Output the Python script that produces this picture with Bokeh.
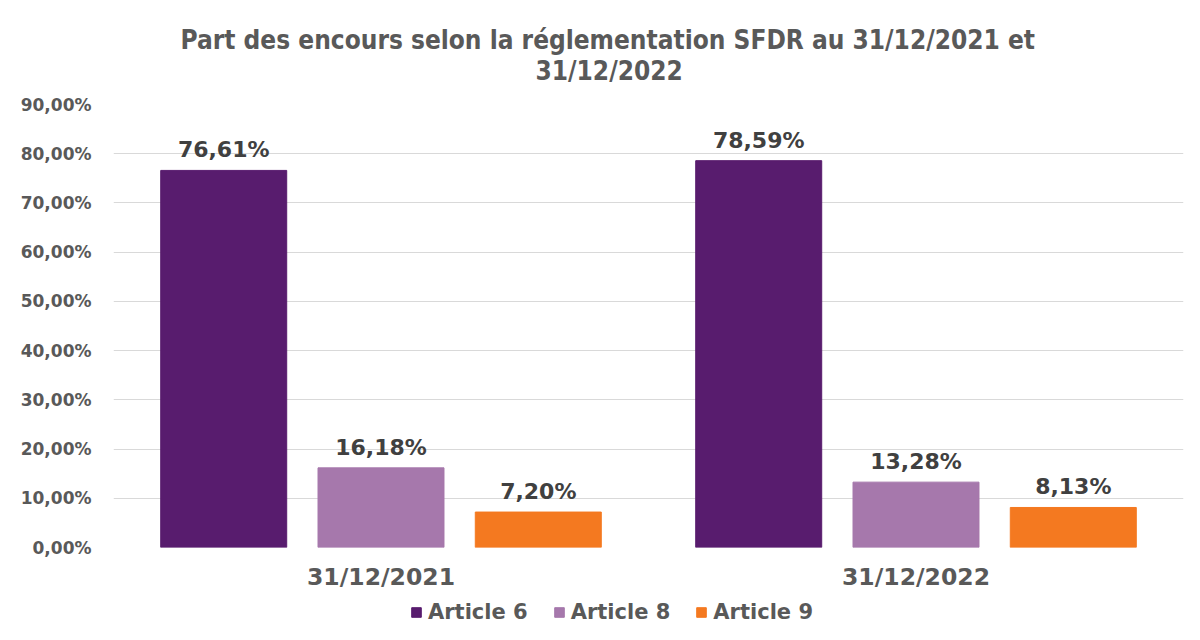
from bokeh.plotting import figure
from bokeh.layouts import column
from bokeh.models import (ColumnDataSource, FactorRange, Range1d, FixedTicker,
                          CustomJSTickFormatter, Title, Legend, LegendItem)
from bokeh.transform import dodge
from bokeh.embed import file_html
from bokeh.resources import INLINE
from bokeh.core.properties import value

# ---- data ----
dates = ["31/12/2021", "31/12/2022"]
series_names = ["Article 6", "Article 8", "Article 9"]
article6 = [76.61, 78.59]
article8 = [16.18, 13.28]
article9 = [7.20, 8.13]
y_ticks = [0, 10, 20, 30, 40, 50, 60, 70, 80, 90]
title_line1 = "Part des encours selon la réglementation SFDR au 31/12/2021 et"
title_line2 = "31/12/2022"

colors = ["#581c6e", "#a678ac", "#f47920"]
FONT = "DejaVu Sans"
GREY = "#595959"


def fmt(v):
    return f"{v:.2f}".replace(".", ",") + "%"


source = ColumnDataSource(dict(
    date=dates,
    a6=article6, a8=article8, a9=article9,
    l6=[fmt(v) for v in article6],
    l8=[fmt(v) for v in article8],
    l9=[fmt(v) for v in article9],
))

p = figure(width=1184, height=596, x_range=FactorRange(*dates),
           y_range=Range1d(0, 90), output_backend="svg", toolbar_location=None,
           title=None, min_border_left=113, min_border_right=1,
           min_border_top=104, min_border_bottom=49)
p.outline_line_color = None
p.background_fill_color = "white"
p.border_fill_color = "white"

offsets = [-0.294, 0.0, 0.294]
bw = 0.2355
for key, off, col in zip(["a6", "a8", "a9"], offsets, colors):
    p.vbar(x=dodge("date", off, range=p.x_range), top=key, width=bw,
           source=source, fill_color=col, line_color=col)

for key, off in zip(["l6", "l8", "l9"], offsets):
    topkey = "a" + key[1]
    p.text(x=dodge("date", off, range=p.x_range), y=topkey, text=key,
           source=source, text_align="center", text_baseline="bottom",
           y_offset=-8, text_font=value(FONT), text_font_style="bold",
           text_font_size="22px", text_color="#404040")

# axes
p.yaxis.ticker = FixedTicker(ticks=y_ticks)
p.yaxis.formatter = CustomJSTickFormatter(
    code="return tick.toFixed(2).replace('.', ',') + '%';")
p.yaxis.axis_line_color = None
p.yaxis.major_tick_line_color = None
p.yaxis.minor_tick_line_color = None
p.yaxis.major_label_text_font = FONT
p.yaxis.major_label_text_font_style = "bold"
p.yaxis.major_label_text_font_size = "17px"
p.yaxis.major_label_text_color = GREY
p.yaxis.major_label_standoff = 16

p.xaxis.axis_line_color = None
p.xaxis.major_tick_line_color = None
p.xaxis.major_label_text_font = FONT
p.xaxis.major_label_text_font_style = "bold"
p.xaxis.major_label_text_font_size = "23.5px"
p.xaxis.major_label_text_color = GREY
p.xaxis.major_label_standoff = 9

p.xgrid.grid_line_color = None
p.ygrid.grid_line_color = "#d9d9d9"
p.ygrid.grid_line_width = 1

t2 = Title(text=title_line2, align="left", text_font="DejaVu Sans Condensed",
           text_font_style="bold", text_font_size="26px", text_color=GREY,
           standoff=37, offset=422)
t1 = Title(text=title_line1, align="left", text_font="DejaVu Sans Condensed",
           text_font_style="bold", text_font_size="26px", text_color=GREY,
           standoff=-38, offset=67)
p.add_layout(t2, "above")
p.add_layout(t1, "above")

# ---- legend strip (bars from the same data, kept out of its visible range) ----
lf = figure(width=1184, height=28, x_range=FactorRange(*dates),
            y_range=Range1d(200, 201),
            output_backend="svg", toolbar_location=None, title=None,
            x_axis_location=None, y_axis_location=None,
            min_border_left=0, min_border_right=0, min_border_top=0,
            min_border_bottom=0)
lf.outline_line_color = None
lf.xgrid.grid_line_color = None
lf.ygrid.grid_line_color = None
legend_renderers = []
for key, off, col in zip(["a6", "a8", "a9"], offsets, colors):
    legend_renderers.append(lf.vbar(x=dodge("date", off, range=lf.x_range),
                                    top=key, width=bw, source=source,
                                    fill_color=col, line_color=col))
legend = Legend(items=[LegendItem(label=n, renderers=[r], index=0)
                       for n, r in zip(series_names, legend_renderers)],
                orientation="horizontal", location=(297, 0),
                label_text_font=FONT, label_text_font_style="bold",
                label_text_font_size="21px", label_text_color=GREY,
                glyph_width=12, glyph_height=12, label_standoff=6,
                spacing=25, padding=0, margin=0, border_line_color=None,
                background_fill_alpha=0)
lf.add_layout(legend, "center")

layout = column(p, lf, spacing=0)
open("out.html", "w").write(file_html(layout, INLINE))
